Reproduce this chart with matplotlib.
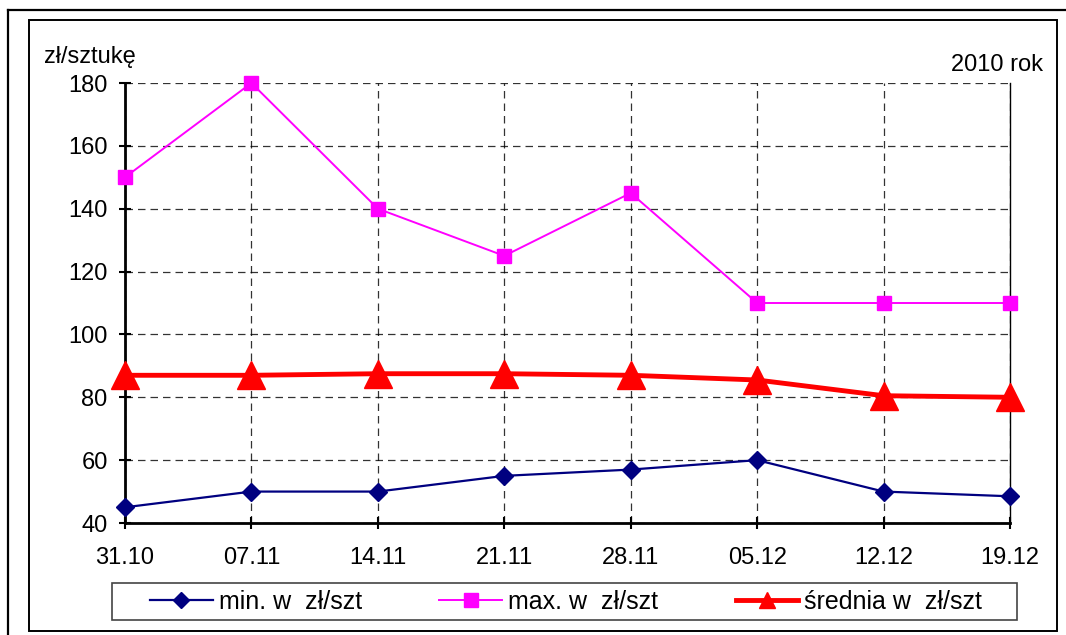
import matplotlib.pyplot as plt
from matplotlib.lines import Line2D
from matplotlib.patches import Rectangle

plt.rcParams['font.family'] = ['Liberation Sans', 'DejaVu Sans']

dates = ["31.10", "07.11", "14.11", "21.11", "28.11", "05.12", "12.12", "19.12"]
min_vals = [45, 50, 50, 55, 57, 60, 50, 48.5]
max_vals = [150, 180, 140, 125, 145, 110, 110, 110]
avg_vals = [87, 87, 87.5, 87.5, 87, 85.5, 80.5, 80]
y_ticks = [40, 60, 80, 100, 120, 140, 160, 180]

W, H = 1066, 635
fig = plt.figure(figsize=(W / 100, H / 100), dpi=100)


def fx(px):
    return px / W


def fy(py):
    return 1 - py / H


# frames around the chart
fig.add_artist(Line2D([fx(8), fx(8)], [fy(10), 0], color="black", lw=1.6))
fig.add_artist(Line2D([fx(8), 1], [fy(10), fy(10)], color="black", lw=1.6))
fig.add_artist(Rectangle((fx(29), fy(631)), fx(1057) - fx(29), fy(20) - fy(631),
                         fill=False, edgecolor="black", lw=1.4))

ax = fig.add_axes([fx(125), fy(523), fx(1010) - fx(125), fy(83) - fy(523)])
x = list(range(len(dates)))

ax.plot(x, min_vals, color="#000080", lw=1.6, marker="D", ms=9.5, label="min. w  zł/szt", zorder=3)
ax.plot(x, max_vals, color="#FF00FF", lw=1.4, marker="s", ms=10, label="max. w  zł/szt", zorder=3)
ax.plot(x, avg_vals, color="#FF0000", lw=3.5, marker="^", ms=20, label="średnia w  zł/szt", zorder=4)

ax.set_xlim(0, len(dates) - 1)
ax.set_ylim(40, 180)
ax.set_xticks(x)
ax.set_xticklabels(dates)
ax.set_yticks(y_ticks)
ax.tick_params(axis="both", direction="inout", length=9, width=1.5, labelsize=17, colors="black")
ax.tick_params(axis="x", pad=13)
ax.tick_params(axis="y", pad=8)
ax.grid(True, color="black", linestyle=(0, (6, 4)), lw=0.9, alpha=0.8)
ax.set_axisbelow(True)

ax.spines["top"].set_visible(False)
ax.spines["left"].set_linewidth(2)
ax.spines["bottom"].set_linewidth(2)
ax.spines["right"].set_linewidth(1)
for s in ax.spines.values():
    s.set_clip_on(False)
for ln in ax.lines:
    ln.set_clip_on(False)

fig.text(fx(44), fy(57), "zł/sztukę", fontsize=17, va="center", ha="left")
fig.text(fx(1043), fy(65), "2010 rok", fontsize=17, va="center", ha="right")

# legend box
fig.add_artist(Rectangle((fx(112), fy(620)), fx(1017) - fx(112), fy(583) - fy(620),
                         fill=False, edgecolor="#444444", lw=1.2))
leg = fig.legend(loc="center left", bbox_to_anchor=(fx(150), fy(602)), ncol=3, fontsize=18,
                 frameon=False, handlelength=2.5, handletextpad=0.25, columnspacing=3.1,
                 borderpad=0, borderaxespad=0)
for h in leg.legend_handles:
    if h.get_label().startswith("średnia"):
        h.set_markersize(12)
    elif h.get_label().startswith("min"):
        h.set_markersize(8)

fig.savefig("out.png", dpi=100)
